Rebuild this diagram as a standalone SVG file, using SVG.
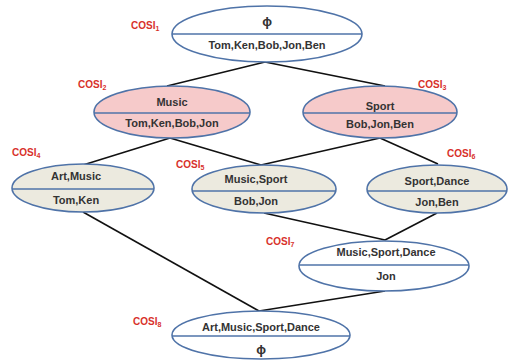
<svg xmlns="http://www.w3.org/2000/svg" width="510" height="364" viewBox="0 0 510 364">
  <style>
    .node { stroke: #4f73a8; stroke-width: 1.6; }
    .plain { fill: #ffffff; }
    .pink { fill: #f6caca; }
    .tan { fill: #eceadf; }
    .div { stroke: #4f73a8; stroke-width: 1.4; }
    .t { font-family: "Liberation Sans", Arial, sans-serif; font-weight: bold; font-size: 11px; fill: #333333; text-anchor: middle; }
    .phi { font-size: 13px; }
    .lbl { font-family: "Liberation Sans", Arial, sans-serif; font-weight: bold; font-size: 10px; fill: #d8312b; }
    .sub { font-size: 7px; }
    .edge { stroke: #111111; stroke-width: 1.6; fill: none; }
  </style>
  <rect width="510" height="364" fill="#ffffff"/>

  <!-- connectors -->
  <g id="connectors">
    <line class="edge" x1="265" y1="62" x2="167" y2="86"/>
    <line class="edge" x1="265" y1="62" x2="385" y2="86"/>
    <line class="edge" x1="170" y1="138" x2="83" y2="165"/>
    <line class="edge" x1="170" y1="138" x2="261" y2="165"/>
    <line class="edge" x1="380" y1="138" x2="261" y2="165"/>
    <line class="edge" x1="380" y1="138" x2="438" y2="164"/>
    <line class="edge" x1="83" y1="212" x2="259" y2="311"/>
    <line class="edge" x1="264" y1="213" x2="385" y2="240"/>
    <line class="edge" x1="437" y1="213" x2="385" y2="240"/>
    <line class="edge" x1="385" y1="291" x2="259" y2="311"/>
  </g>

  <!-- COSI1 -->
  <g id="cosi1">
    <ellipse class="node plain" cx="267" cy="34" rx="95" ry="28"/>
    <line class="div" x1="172" y1="34" x2="362" y2="34"/>
    <text class="t phi" x="267" y="26">ϕ</text>
    <text class="t" x="267" y="49">Tom,Ken,Bob,Jon,Ben</text>
    <text class="lbl" x="131" y="29">COSI<tspan class="sub" dy="2">1</tspan></text>
  </g>

  <!-- COSI2 -->
  <g id="cosi2">
    <ellipse class="node pink" cx="172" cy="112" rx="78" ry="26"/>
    <line class="div" x1="94" y1="113" x2="250" y2="113"/>
    <text class="t" x="172" y="106">Music</text>
    <text class="t" x="172" y="127">Tom,Ken,Bob,Jon</text>
    <text class="lbl" x="78" y="88">COSI<tspan class="sub" dy="2">2</tspan></text>
  </g>

  <!-- COSI3 -->
  <g id="cosi3">
    <ellipse class="node pink" cx="380" cy="112" rx="77" ry="26"/>
    <line class="div" x1="303" y1="113" x2="457" y2="113"/>
    <text class="t" x="380" y="110">Sport</text>
    <text class="t" x="380" y="128">Bob,Jon,Ben</text>
    <text class="lbl" x="418" y="88">COSI<tspan class="sub" dy="2">3</tspan></text>
  </g>

  <!-- COSI4 -->
  <g id="cosi4">
    <ellipse class="node tan" cx="83" cy="188" rx="71" ry="24"/>
    <line class="div" x1="12" y1="189" x2="154" y2="189"/>
    <text class="t" x="76" y="180">Art,Music</text>
    <text class="t" x="76" y="204">Tom,Ken</text>
    <text class="lbl" x="12" y="156">COSI<tspan class="sub" dy="2">4</tspan></text>
  </g>

  <!-- COSI5 -->
  <g id="cosi5">
    <ellipse class="node tan" cx="264" cy="189" rx="72" ry="24"/>
    <line class="div" x1="192" y1="191" x2="336" y2="191"/>
    <text class="t" x="256" y="183">Music,Sport</text>
    <text class="t" x="256" y="205">Bob,Jon</text>
    <text class="lbl" x="176" y="168">COSI<tspan class="sub" dy="2">5</tspan></text>
  </g>

  <!-- COSI6 -->
  <g id="cosi6">
    <ellipse class="node tan" cx="437" cy="189" rx="70" ry="24"/>
    <line class="div" x1="367" y1="191" x2="507" y2="191"/>
    <text class="t" x="437" y="185">Sport,Dance</text>
    <text class="t" x="437" y="206">Jon,Ben</text>
    <text class="lbl" x="447" y="157">COSI<tspan class="sub" dy="2">6</tspan></text>
  </g>

  <!-- COSI7 -->
  <g id="cosi7">
    <ellipse class="node plain" cx="384" cy="266" rx="85" ry="25"/>
    <line class="div" x1="299" y1="265" x2="469" y2="265"/>
    <text class="t" x="386" y="256">Music,Sport,Dance</text>
    <text class="t" x="386" y="280">Jon</text>
    <text class="lbl" x="266" y="245">COSI<tspan class="sub" dy="2">7</tspan></text>
  </g>

  <!-- COSI8 -->
  <g id="cosi8">
    <ellipse class="node plain" cx="261" cy="335" rx="89" ry="24"/>
    <line class="div" x1="172" y1="336" x2="350" y2="336"/>
    <text class="t" x="261" y="331">Art,Music,Sport,Dance</text>
    <text class="t phi" x="261" y="354">ϕ</text>
    <text class="lbl" x="133" y="325">COSI<tspan class="sub" dy="2">8</tspan></text>
  </g>
</svg>
